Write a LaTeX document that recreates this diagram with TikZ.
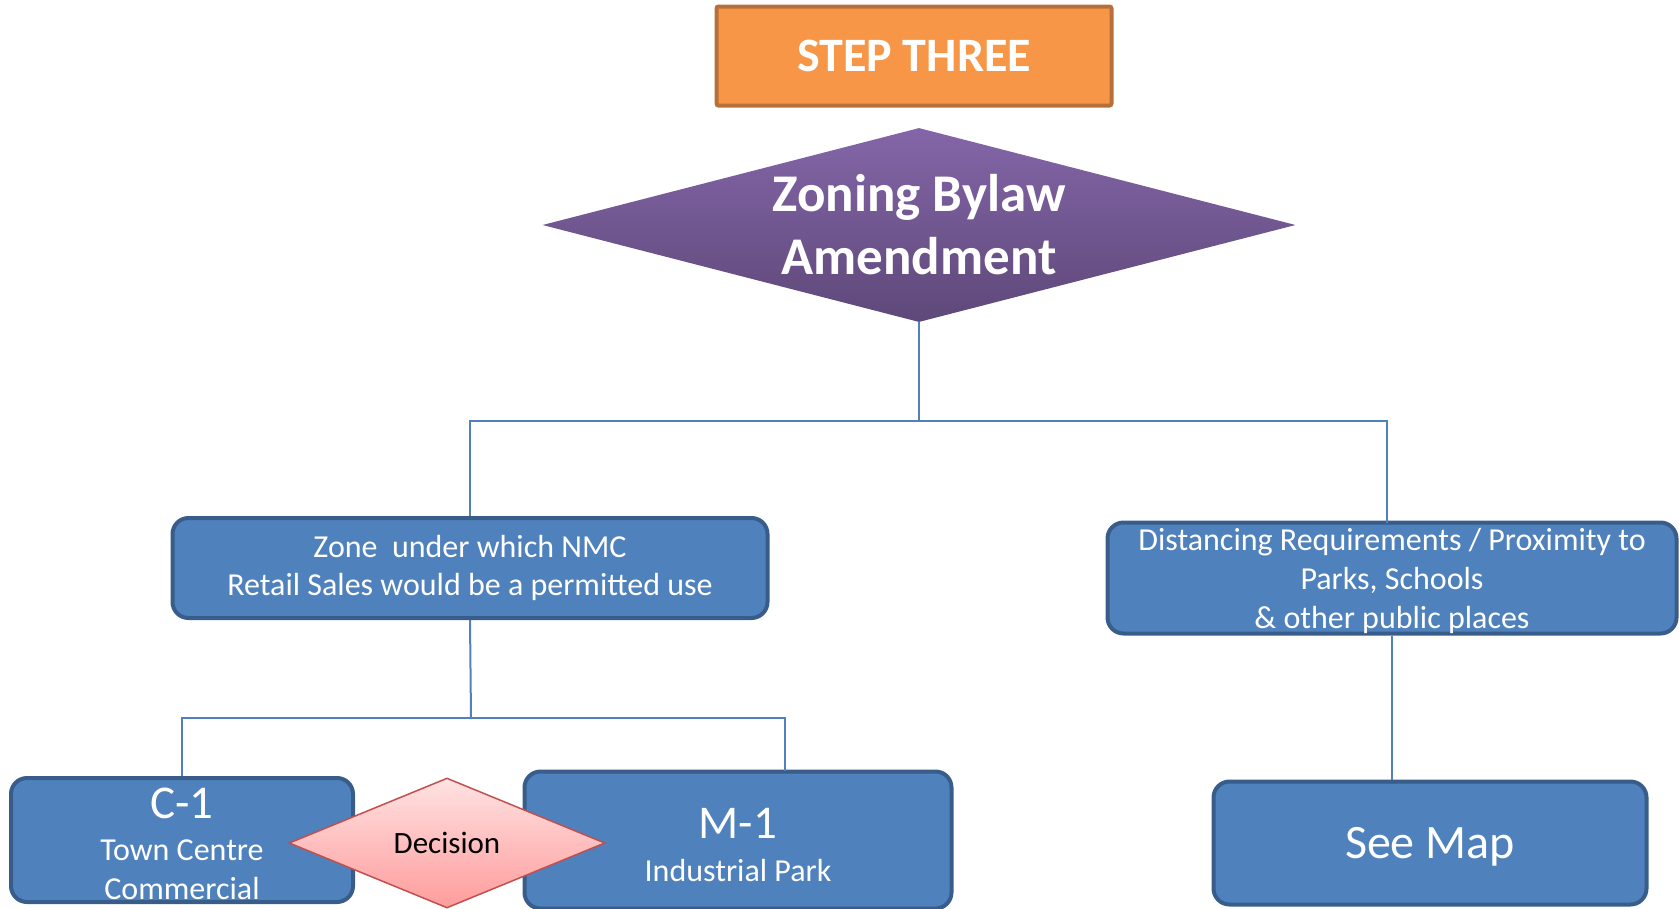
\documentclass[tikz,border=0pt]{standalone}
\usepackage{fontspec}
\setmainfont{Carlito}
\usetikzlibrary{shapes.geometric}
\definecolor{boxblue}{HTML}{4F81BD}
\definecolor{boxline}{HTML}{385D8A}
\definecolor{stepfill}{HTML}{F79646}
\definecolor{stepline}{HTML}{B8703A}
\definecolor{purptop}{HTML}{8466A8}
\definecolor{purpbot}{HTML}{5E4879}
\definecolor{pinktop}{HTML}{FFE2E2}
\definecolor{pinkbot}{HTML}{FF9C9C}
\definecolor{redline}{HTML}{C0504D}
\begin{document}
\begin{tikzpicture}[x=1pt,y=-1pt,
box/.style={draw=boxline,fill=boxblue,line width=4pt,rounded corners=16pt,
  text=white,align=center,inner sep=0pt},
boxtext/.style={text=white,align=center,inner sep=0pt},
stepbox/.style={draw=stepline,fill=stepfill,line width=4pt,rounded corners=2pt,
  text=white,font=\fontsize{48}{54}\selectfont\bfseries,inner sep=0pt},
bigdiam/.style={diamond,aspect=3.88,top color=purptop,bottom color=purpbot,draw=none,
  text=white,align=center,inner sep=0pt,font=\fontsize{53}{63}\selectfont\bfseries},
smalldiam/.style={diamond,aspect=2.43,top color=pinktop,bottom color=pinkbot,draw=redline,
  line width=1.5pt,inner sep=0pt,font=\fontsize{31}{36}\selectfont},
link/.style={draw=boxblue,line width=2pt}]
\useasboundingbox (0,0) rectangle (1679,908);
% header and main decision
\node[stepbox,minimum width=395pt,minimum height=99pt] (step) at (914,56) {STEP THREE};
\node[bigdiam,minimum width=753pt,minimum height=194pt] (amend) at (919,225)
  {Zoning Bylaw\\Amendment};
% second level
\node[box,minimum width=595pt,minimum height=100pt,
  font=\fontsize{32}{38}\selectfont] (zone) at (470,568)
  {Zone\ \ under which NMC\\Retail Sales would be a permitted use};
\node[box,minimum width=569pt,minimum height=111pt,
  font=\fontsize{32}{39}\selectfont] (dist) at (1392,578)
  {\strut Distancing Requirements / Proximity to\\Parks, Schools\\\& other public places};
% third level
\node[box,minimum width=342pt,minimum height=124pt] (c1) at (182,840) {};
\node[boxtext,font=\fontsize{47}{50}\selectfont] (c1lbl) at (182,803) {C-1};
\node[boxtext,font=\fontsize{32}{39}\selectfont] (c1txt) at (182,870)
  {Town Centre\\Commercial};
\node[box,minimum width=427pt,minimum height=137pt] (m1) at (738,840) {};
\node[boxtext,font=\fontsize{32}{43}\selectfont] (m1txt) at (738,845)
  {{\fontsize{47}{50}\selectfont M-1}\\Industrial Park};
\node[box,minimum width=433pt,minimum height=123pt] (map) at (1430,843) {};
\node[boxtext,font=\fontsize{48}{54}\selectfont] (maptxt) at (1430,847) {See Map};
\node[smalldiam,minimum width=316pt,minimum height=130pt] (dec) at (447,843) {Decision};
% connectors
\coordinate (split1) at (919,421);
\coordinate (split2) at (471,718);
\coordinate (m1top) at (785,771);
\coordinate (disttop) at (1387,523);
\draw[link] (amend.south) -- (split1);
\draw[link] (zone.north) -- (zone.north |- split1) -- (disttop |- split1) -- (disttop);
\draw[link] (zone.south) -- (split2);
\draw[link] (c1.north) -- (c1.north |- split2) -- (m1top |- split2) -- (m1top);
\draw[link] (dist.south) -- (dist.south |- map.north);
\end{tikzpicture}
\end{document}
